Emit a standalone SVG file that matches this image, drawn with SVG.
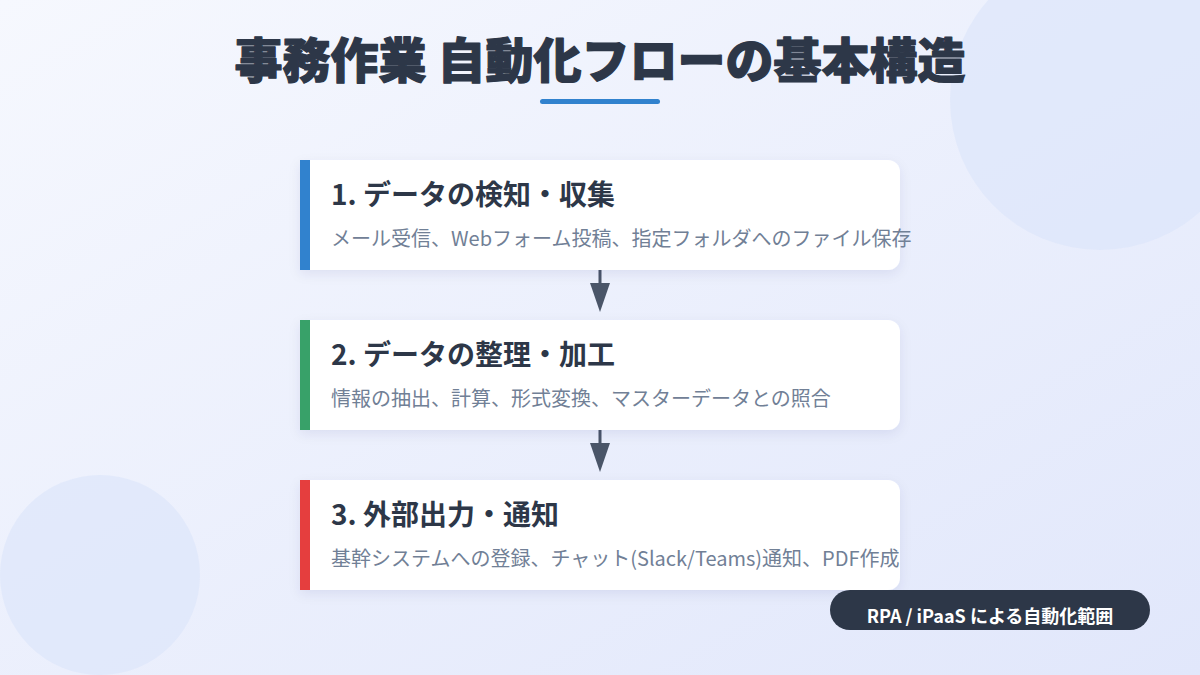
<svg xmlns="http://www.w3.org/2000/svg" width="1200" height="675" viewBox="0 0 1200 675">
  <defs>
    <linearGradient id="bg" x1="0" y1="0" x2="1" y2="1">
      <stop offset="0" stop-color="#f6f8fe"/>
      <stop offset="1" stop-color="#e1e7fb"/>
    </linearGradient>
    <filter id="shadow" x="-10%" y="-20%" width="120%" height="150%">
      <feDropShadow dx="0" dy="4" stdDeviation="6" flood-color="#1a2a6c" flood-opacity="0.08"/>
    </filter>
    <style>
      .title { font-family: "Noto Sans CJK JP", "Noto Sans", sans-serif; font-weight: 900; fill: #2d3748; stroke: #2d3748; stroke-width: 1.2; stroke-linejoin: round; }
      .ct { font-family: "Noto Sans CJK JP", "Noto Sans", sans-serif; font-weight: 700; font-size: 28px; fill: #2d3748; }
      .cs { font-family: "Noto Sans CJK JP", "Noto Sans", sans-serif; font-weight: 400; font-size: 20px; fill: #718096; }
      .card { fill: #ffffff; filter: url(#shadow); }
      .conn { stroke: #4a5568; stroke-width: 3; fill: none; }
      .head { fill: #4a5568; }
      .deco { fill: #dbe5fa; opacity: 0.6; }
    </style>
  </defs>

  <rect width="1200" height="675" fill="url(#bg)"/>
  <g id="decor">
    <circle class="deco" cx="1100" cy="100" r="150"/>
    <circle class="deco" cx="100" cy="575" r="100"/>
  </g>

  <g id="header">
    <text class="title" x="600" y="78" font-size="48" text-anchor="middle">事務作業 自動化フローの基本構造</text>
    <rect x="540" y="99" width="120" height="5" rx="2.5" fill="#3182ce"/>
  </g>

  <g id="connectors">
    <line class="conn" x1="600" y1="270" x2="600" y2="286"/>
    <path class="head" d="M590,283 L610,283 L600,312 Z"/>
    <line class="conn" x1="600" y1="430" x2="600" y2="446"/>
    <path class="head" d="M590,443 L610,443 L600,472 Z"/>
  </g>

  <g id="node1">
    <path class="card" d="M300,160 H888 A12,12 0 0 1 900,172 V258 A12,12 0 0 1 888,270 H300 Z"/>
    <rect x="300" y="160" width="10" height="110" fill="#3182ce"/>
    <text class="ct" x="331" y="205">1. データの検知・収集</text>
    <text class="cs" x="331" y="246">メール受信、Webフォーム投稿、指定フォルダへのファイル保存</text>
  </g>

  <g id="node2">
    <path class="card" d="M300,320 H888 A12,12 0 0 1 900,332 V418 A12,12 0 0 1 888,430 H300 Z"/>
    <rect x="300" y="320" width="10" height="110" fill="#38a169"/>
    <text class="ct" x="331" y="365">2. データの整理・加工</text>
    <text class="cs" x="331" y="406">情報の抽出、計算、形式変換、マスターデータとの照合</text>
  </g>

  <g id="node3">
    <path class="card" d="M300,480 H888 A12,12 0 0 1 900,492 V578 A12,12 0 0 1 888,590 H300 Z"/>
    <rect x="300" y="480" width="10" height="110" fill="#e53e3e"/>
    <text class="ct" x="331" y="525">3. 外部出力・通知</text>
    <text class="cs" x="331" y="566">基幹システムへの登録、チャット(Slack/Teams)通知、PDF作成</text>
  </g>

  <g id="badge">
    <rect x="830" y="590" width="320" height="40" rx="20" fill="#2d3748"/>
    <text x="990" y="623" text-anchor="middle" font-family="Noto Sans CJK JP, Noto Sans, sans-serif" font-weight="700" font-size="18" fill="#ffffff">RPA / iPaaS による自動化範囲</text>
  </g>
</svg>
